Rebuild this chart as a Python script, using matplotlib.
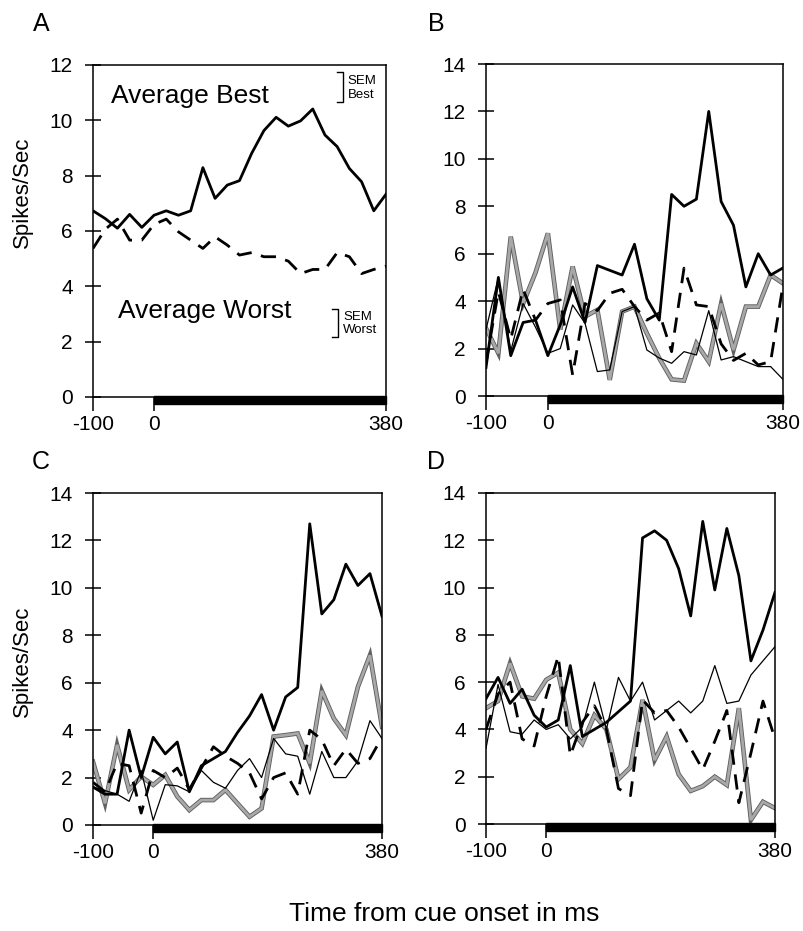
import matplotlib
matplotlib.use('Agg')
import matplotlib.pyplot as plt
import matplotlib.patheffects as pe
import matplotlib.transforms as mtransforms
from matplotlib.patches import Rectangle

plt.rcParams['font.family'] = ['Liberation Sans', 'DejaVu Sans']
plt.rcParams['axes.unicode_minus'] = False

# time bins (ms from cue onset)
time_ms = [-100, -80, -60, -40, -20, 0, 20, 40, 60, 80, 100, 120, 140,
           160, 180, 200, 220, 240, 260, 280, 300, 320, 340, 360, 380]

# panel A: population averages
avg_best = [6.73, 6.45, 6.1, 6.6, 6.13, 6.57, 6.73, 6.57, 6.73, 8.29, 7.18, 7.66, 7.82,
            8.81, 9.63, 10.11, 9.79, 9.98, 10.41, 9.47, 9.05, 8.26, 7.78, 6.73, 7.33]
avg_worst = [5.37, 6.06, 6.43, 5.67, 5.67, 6.24, 6.43, 5.97, 5.67, 5.37, 5.79, 5.49, 5.13,
             5.22, 5.07, 5.07, 4.91, 4.46, 4.61, 4.61, 5.22, 5.07, 4.46, 4.61, 4.73]
sem_best = 1.1
sem_worst = 1.0

# panel B: single cell
b_thick = [1.2, 5.0, 1.7, 3.1, 3.2, 1.7, 3.0, 4.6, 3.1, 5.5, 5.3, 5.1, 6.4,
           4.1, 3.2, 8.5, 8.0, 8.3, 12.0, 8.2, 7.2, 4.6, 6.0, 5.1, 5.4]
b_thin = [2.8, 5.0, 1.9, 3.9, 2.9, 1.8, 2.0, 3.84, 3.07, 1.03, 1.1, 3.56, 3.77,
          1.94, 1.6, 1.38, 1.87, 1.73, 3.6, 1.52, 1.66, 1.45, 1.24, 1.24, 0.7]
b_gray = [2.86, 1.8, 6.72, 3.9, 5.2, 6.86, 2.8, 5.46, 3.35, 3.63, 0.68, 3.56, 3.77,
          2.64, 1.59, 0.7, 0.65, 2.22, 1.45, 3.9, 1.94, 3.77, 3.77, 5.1, 4.75]
b_dash = [1.4, 4.4, 2.4, 4.5, 3.2, 3.9, 4.05, 0.89, 3.9, 3.6, 4.33, 4.5, 3.77,
          3.2, 3.5, 1.87, 5.39, 3.84, 3.77, 2.2, 1.5, 1.8, 1.31, 1.45, 4.68]

# panel C: single cell
c_thick = [1.6, 1.3, 1.3, 4.0, 2.0, 3.7, 3.0, 3.5, 1.4, 2.5, 2.8, 3.1, 3.9,
           4.6, 5.5, 4.0, 5.4, 5.8, 12.7, 8.9, 9.5, 11.0, 10.1, 10.6, 8.8]
c_thin = [1.6, 1.45, 1.3, 1.0, 2.3, 0.2, 1.7, 1.65, 1.4, 2.3, 1.8, 1.55, 2.3,
          2.8, 2.0, 3.65, 3.0, 2.9, 1.3, 3.1, 2.0, 2.0, 2.7, 4.4, 3.65]
c_gray = [2.67, 0.91, 3.38, 1.48, 2.04, 1.69, 2.11, 1.2, 0.63, 1.05, 1.05, 1.48, 0.91,
          0.35, 0.7, 3.73, 3.79, 3.86, 2.6, 5.66, 4.49, 3.79, 5.83, 7.16, 4.14]
c_dash = [1.8, 1.4, 2.6, 2.5, 0.5, 2.3, 2.0, 2.4, 1.5, 2.4, 3.3, 2.9, 2.6,
          2.2, 1.1, 2.0, 2.2, 1.3, 4.0, 3.6, 2.5, 3.2, 2.6, 2.8, 3.7]

# panel D: single cell
d_thick = [5.3, 6.2, 5.1, 5.7, 4.6, 4.1, 4.4, 6.7, 3.7, 4.0, 4.3, 4.75, 5.2,
           12.1, 12.4, 12.0, 10.8, 8.8, 12.8, 9.9, 12.5, 10.5, 6.9, 8.2, 9.8]
d_thin = [3.2, 5.9, 3.9, 3.8, 4.4, 4.0, 4.2, 3.6, 4.1, 6.0, 4.0, 6.2, 5.2,
          6.0, 4.4, 4.8, 5.2, 4.7, 5.2, 6.7, 5.1, 5.2, 6.3, 6.9, 7.5]
d_gray = [4.9, 5.2, 6.8, 5.4, 5.3, 6.1, 6.4, 4.0, 3.4, 4.6, 4.0, 1.9, 2.4,
          5.25, 2.7, 3.7, 2.1, 1.4, 1.6, 2.0, 1.65, 4.9, 0.17, 0.94, 0.67]
d_dash = [4.0, 5.5, 6.0, 3.6, 3.3, 5.4, 7.1, 2.9, 4.3, 5.0, 4.0, 1.5, 1.2,
          5.25, 4.7, 4.8, 4.1, 3.2, 2.3, 3.5, 4.8, 0.9, 3.0, 5.2, 3.6]

x_ticks = [-100, 0, 380]
cue_period = [0, 380]

W, H = 804, 931
fig = plt.figure(figsize=(W / 100, H / 100), dpi=100)


def px_axes(left, top, right, bottom):
    return fig.add_axes([left / W, 1 - bottom / H, (right - left) / W, (bottom - top) / H])


def style_axes(ax, ymax):
    ax.set_xlim(-100, 380)
    ax.set_ylim(0, ymax)
    ax.set_xticks(x_ticks)
    ax.set_yticks(range(0, ymax + 1, 2))
    ax.tick_params(axis='y', direction='inout', length=11, width=1.1, pad=9, labelsize=15)
    ax.tick_params(axis='x', direction='out', length=10, width=1.1, pad=3, labelsize=15)
    for s in ax.spines.values():
        s.set_linewidth(1.1)
    # black bar marking the cue period
    trans = mtransforms.blended_transform_factory(ax.transData, ax.transAxes)
    ax.add_patch(Rectangle((cue_period[0], -0.021), cue_period[1] - cue_period[0], 0.023,
                           transform=trans, color='black', clip_on=False, zorder=5))


def cell_lines(ax, thick, thin, gray, dash):
    ax.plot(time_ms, gray, color='#a8a8a8', lw=2.0, solid_joinstyle='miter',
            path_effects=[pe.Stroke(linewidth=3.3, foreground='#606060'), pe.Normal()])
    ax.plot(time_ms, thin, color='black', lw=0.9)
    ax.plot(time_ms, dash, color='black', lw=2.0, dashes=(5.5, 3.5))
    ax.plot(time_ms, thick, color='black', lw=2.0)


# A
axA = px_axes(93, 65, 386, 397)
axA.plot(time_ms, avg_best, color='black', lw=2.0)
axA.plot(time_ms, avg_worst, color='black', lw=2.0, dashes=(5.5, 3.5))
style_axes(axA, 12)
axA.text(0.0614, 0.8855, 'Average Best', transform=axA.transAxes, fontsize=19, va='baseline')
axA.text(0.0853, 0.238, 'Average Worst', transform=axA.transAxes, fontsize=19, va='baseline')

trans = mtransforms.blended_transform_factory(axA.transAxes, axA.transData)
for top, sem, label, bx in [(11.75, sem_best, 'Best', 0.853), (3.18, sem_worst, 'Worst', 0.836)]:
    axA.plot([bx - 0.02, bx, bx, bx - 0.02], [top, top, top - sem, top - sem],
             color='black', lw=1.0, transform=trans)
    axA.text(bx + 0.017, top - sem * 0.3, 'SEM', transform=trans, fontsize=9.5, va='center')
    axA.text(bx + 0.017, top - sem * 0.75, label, transform=trans, fontsize=9.5, va='center')

# B
axB = px_axes(486, 64, 783, 396)
cell_lines(axB, b_thick, b_thin, b_gray, b_dash)
style_axes(axB, 14)

# C
axC = px_axes(93, 493, 382, 825)
cell_lines(axC, c_thick, c_thin, c_gray, c_dash)
style_axes(axC, 14)

# D
axD = px_axes(486, 493, 775, 824)
cell_lines(axD, d_thick, d_thin, d_gray, d_dash)
style_axes(axD, 14)

# panel letters and shared labels
for letter, x, y in [('A', 41, 24), ('B', 436, 24), ('C', 41, 462), ('D', 436, 462)]:
    fig.text(x / W, 1 - y / H, letter, fontsize=18, ha='center', va='center')

fig.text(22 / W, 1 - 192 / H, 'Spikes/Sec', rotation=90, fontsize=16, ha='center', va='center')
fig.text(22 / W, 1 - 661 / H, 'Spikes/Sec', rotation=90, fontsize=16, ha='center', va='center')
fig.text(444 / W, 1 - 914 / H, 'Time from cue onset in ms', fontsize=19, ha='center', va='center')

fig.savefig('out.png', dpi=100)
plt.close(fig)
